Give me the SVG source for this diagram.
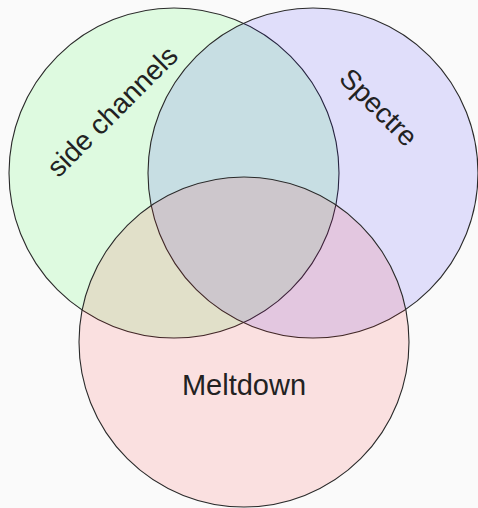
<svg xmlns="http://www.w3.org/2000/svg" width="478" height="508" viewBox="0 0 478 508">
  <style>
    .set { stroke: #2a2a2a; stroke-width: 1.1; }
    .lbl { font-family: "Liberation Sans", "DejaVu Sans", sans-serif; font-size: 28px; fill: #222; text-anchor: middle; }
  </style>
  <rect width="478" height="508" fill="#fafafa"/>
  <g id="side-channels">
    <circle class="set" cx="174" cy="173" r="165" fill="rgb(0,255,20)" fill-opacity="0.11"/>
  </g>
  <g id="spectre">
    <circle class="set" cx="313" cy="173" r="165" fill="rgb(20,0,255)" fill-opacity="0.11"/>
  </g>
  <g id="meltdown">
    <circle class="set" cx="244" cy="342" r="165" fill="rgb(255,20,20)" fill-opacity="0.11"/>
  </g>
  <g id="labels">
    <text class="lbl" transform="translate(112,111) rotate(-45)" y="10">side channels</text>
    <text class="lbl" transform="translate(379,107) rotate(45)" y="10">Spectre</text>
    <text class="lbl" x="244" y="395" style="font-size:29px">Meltdown</text>
  </g>
</svg>
